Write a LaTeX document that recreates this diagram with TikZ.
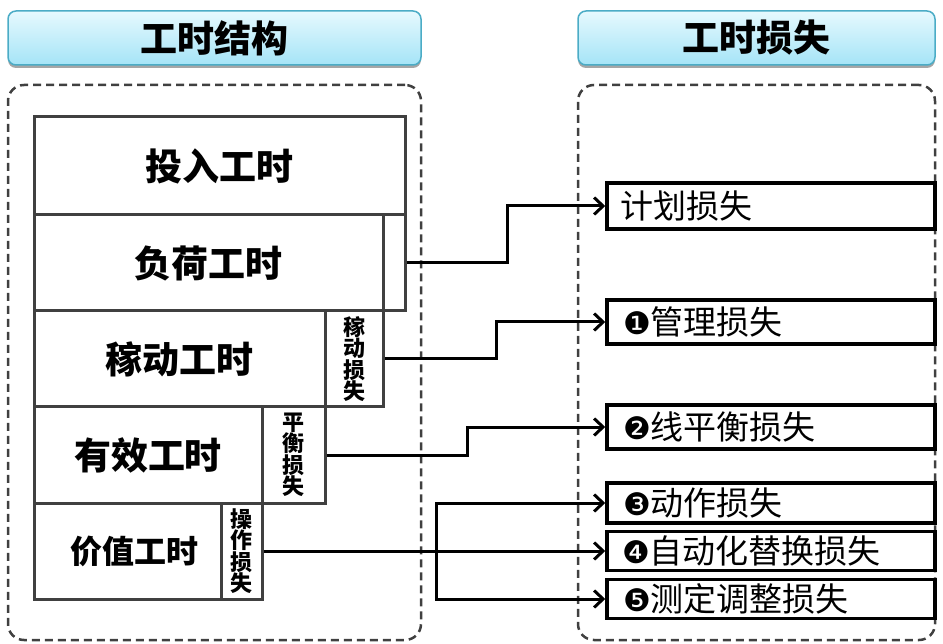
\documentclass[tikz,border=0pt]{standalone}
\usepackage{fontspec}
\setmainfont{Noto Sans CJK SC}
\newfontfamily\dingfont{DejaVu Sans}
\usetikzlibrary{arrows.meta,shadows}
\definecolor{gline}{HTML}{404040}
\definecolor{tborder}{HTML}{4BACC6}
\definecolor{ttop}{HTML}{E6F9FE}
\definecolor{tbot}{HTML}{A5E4F7}
\newcommand{\dg}[1]{{\dingfont\fontsize{31}{33}\selectfont #1}}
\begin{document}
\begin{tikzpicture}[x=1pt,y=-1pt,
  titlebox/.style={draw=tborder,line width=1.5pt,rounded corners=8pt,
    top color=ttop,bottom color=tbot,
    drop shadow={shadow xshift=0pt,shadow yshift=-3pt,opacity=0.35,fill=black},
    font=\bfseries\fontsize{37}{40}\selectfont,inner sep=0pt},
  frame/.style={draw=gline,line width=2.5pt,dash pattern=on 8pt off 5pt,rounded corners=16pt,inner sep=0pt},
  cell/.style={draw=gline,line width=3pt,inner sep=0pt,font=\bfseries\fontsize{37}{40}\selectfont},
  vcell/.style={draw=gline,line width=3pt,inner sep=0pt,align=center,font=\bfseries\fontsize{22}{21.5}\selectfont},
  lossbox/.style={draw=black,line width=3.5pt,minimum width=328pt,text width=302pt,align=left,
    inner xsep=13pt,inner ysep=0pt,font=\fontsize{33}{36}\selectfont},
  conn/.style={line width=3pt,-{Straight Barb[length=9pt,width=17pt]}}
]
\useasboundingbox (0,0) rectangle (943,644);

% titles
\node[titlebox,minimum width=413pt,minimum height=54pt] (t1) at (214.5,38) {工时结构};
\node[titlebox,minimum width=357pt,minimum height=54pt] (t2) at (756.5,38) {工时损失};

% dashed frames
\node[frame,minimum width=413pt,minimum height=555pt] (lf) at (214.5,362.5) {};
\node[frame,minimum width=357pt,minimum height=555pt] (rf) at (756.5,362.5) {};

% structure cells
\node[cell,minimum width=371pt,minimum height=98pt] (tr) at (219.5,166) {投入工时};
\node[cell,minimum width=349pt,minimum height=96pt] (fh) at (208.5,263) {负荷工时};
\node[vcell,minimum width=22pt,minimum height=96pt] (c1) at (394,263) {};
\node[cell,minimum width=291pt,minimum height=96pt] (jd) at (179.5,359) {稼动工时};
\node[vcell,minimum width=58pt,minimum height=96pt] (c2) at (354,359) {稼\\动\\损\\失};
\node[cell,minimum width=228pt,minimum height=96pt] (yx) at (148,455) {有效工时};
\node[vcell,minimum width=63pt,minimum height=96pt] (c3) at (293.5,455) {平\\衡\\损\\失};
\node[cell,minimum width=187pt,minimum height=96pt,font=\bfseries\fontsize{32}{36}\selectfont] (jz) at (127.5,551) {\hspace*{14pt}价值工时};
\node[vcell,minimum width=41pt,minimum height=96pt] (c4) at (241.5,551) {操\\作\\损\\失};

% loss boxes
\node[lossbox,minimum height=46pt] (plan) at (771,206) {计划损失};
\node[lossbox,minimum height=44pt] (mg) at (771,322) {\hspace*{3pt}\dg{❶}管理损失};
\node[lossbox,minimum height=44pt] (lb) at (771,427) {\hspace*{3pt}\dg{❷}线平衡损失};
\node[lossbox,minimum height=40pt] (act) at (771,503) {\hspace*{3pt}\dg{❸}动作损失};
\node[lossbox,minimum height=39pt] (auto) at (771,551) {\hspace*{2pt}\dg{❹}自动化替换损失};
\node[lossbox,minimum height=39pt] (meas) at (771,599) {\hspace*{3pt}\dg{❺}测定调整损失};

% connectors
\draw[conn] (c1.east) -- ++(101,0) |- (plan.west);
\draw[conn] (c2.east) -- ++(112,0) |- (mg.west);
\draw[conn] (c3.east) -- ++(141,0) |- (lb.west);
\draw[conn] (c4.east) -- (auto.west);
\coordinate (br) at (436,551);
\draw[conn] (br) |- (act.west);
\draw[conn] (br) |- (meas.west);
\end{tikzpicture}
\end{document}
